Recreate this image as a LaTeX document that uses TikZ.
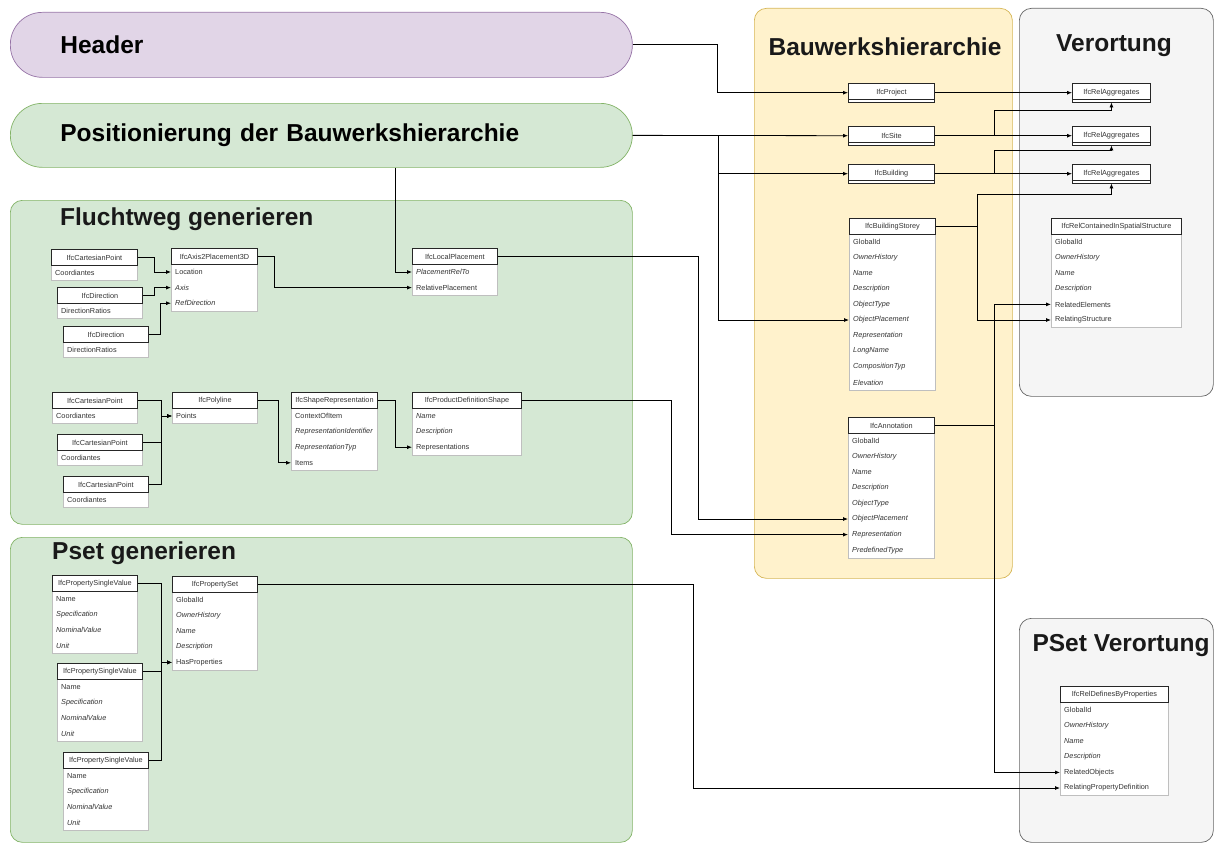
\documentclass[tikz,border=0pt]{standalone}
\usepackage{fontspec}
\setmainfont{Liberation Sans}
\usetikzlibrary{arrows.meta}

\definecolor{grnfill}{HTML}{D5E8D4}\definecolor{grnline}{HTML}{82B366}
\definecolor{purfill}{HTML}{E1D5E7}\definecolor{purline}{HTML}{9673A6}
\definecolor{yelfill}{HTML}{FFF2CC}\definecolor{yelline}{HTML}{D6B656}
\definecolor{gryfill}{HTML}{F5F5F5}\definecolor{gryline}{HTML}{666666}
\definecolor{txt}{HTML}{333333}

\tikzset{
  group/.style={draw, line width=0.7pt, rounded corners=12pt, anchor=north west, inner sep=0},
  grptitle/.style={font=\fontsize{24.5}{28}\selectfont\bfseries, text=black!90, inner sep=0},
  tabhead/.style={draw=black!85, line width=0.9pt, fill=white, anchor=north west,
    minimum height=16pt, inner sep=0, font=\fontsize{7.3}{8}\selectfont, text=txt},
  collapsed/.style={minimum height=18.5pt,
    path picture={\draw[line width=0.8pt, black!85]
      ([yshift=2.6pt]path picture bounding box.south west) --
      ([yshift=2.6pt]path picture bounding box.south east);}},
  tabbody/.style={draw=black!25, line width=0.4pt, fill=white},
  tabrow/.style={anchor=north west, minimum height=15.6pt, inner ysep=0, inner xsep=4pt,
    align=left, font=\fontsize{7.3}{8}\selectfont, text=txt},
  edge/.style={draw=black, line width=0.8pt, -{Latex[length=5pt,width=4pt]}},
}

% #1 name, #2 left, #3 top, #4 width, #5 title, #6 rows
\newcommand{\ifctable}[6]{%
  \pgfmathsetmacro{\tabtw}{#4-8}%
  \foreach [count=\i] \r in {#6} {\xdef\tabn{\i}}%
  \draw[tabbody] (#2,#3+16) rectangle (#2+#4,#3+16+\tabn*15.6);
  \node[tabhead, minimum width=#4pt] (#1) at (#2,#3) {#5};
  \foreach [count=\i] \r in {#6} {
    \node[tabrow, text width=\tabtw pt] (#1-\i) at (#2,#3+16+\i*15.6-15.6) {\r};
  }%
}

\begin{document}
\begin{tikzpicture}[x=1pt,y=-1pt]
\useasboundingbox (0,0) rectangle (1214,843);

% ---- groups ----
\node[group, fill=purfill, draw=purline, rounded corners=32pt, minimum width=622pt,
  minimum height=65pt, text width=522pt, inner xsep=50pt, align=left,
  font=\fontsize{24.5}{28}\selectfont\bfseries] (hdr) at (10,12) {Header};
\node[group, fill=grnfill, draw=grnline, rounded corners=32pt, minimum width=622pt,
  minimum height=64pt, text width=522pt, inner xsep=50pt, align=left,
  font=\fontsize{24.5}{28}\selectfont\bfseries] (pos) at (10,103) {Positionierung der Bauwerkshierarchie};

\node[group, fill=grnfill, draw=grnline, minimum width=622pt, minimum height=324pt] (flu) at (10,200) {};
\node[grptitle, anchor=west] (flu-t) at (60,219) {Fluchtweg generieren};

\node[group, fill=grnfill, draw=grnline, minimum width=622pt, minimum height=305pt] (pse) at (10,537) {};
\node[grptitle, anchor=west] (pse-t) at (52,553) {Pset generieren};

\node[group, fill=yelfill, draw=yelline, minimum width=258pt, minimum height=570pt] (bau) at (754,8) {};
\node[grptitle] (bau-t) at (885,47) {Bauwerkshierarchie};

\node[group, fill=gryfill, draw=gryline, minimum width=194pt, minimum height=388pt] (ver) at (1019,8) {};
\node[grptitle] (ver-t) at (1114,46) {Verortung};

\node[group, fill=gryfill, draw=gryline, minimum width=194pt, minimum height=224pt] (pve) at (1019,618) {};
\node[grptitle] (pve-t) at (1121,646) {PSet Verortung};

% ---- Fluchtweg generieren ----
\ifctable{cpa}{51}{249}{86}{IfcCartesianPoint}{Coordiantes}
\ifctable{dra}{57}{287}{85}{IfcDirection}{DirectionRatios}
\ifctable{drb}{63}{326}{85}{IfcDirection}{DirectionRatios}
\ifctable{ax}{171}{248}{86}{IfcAxis2Placement3D}{Location,\textit{Axis},\textit{RefDirection}}
\ifctable{lp}{412}{248}{85}{IfcLocalPlacement}{\textit{PlacementRelTo},RelativePlacement}

\ifctable{cpb}{52}{392}{85}{IfcCartesianPoint}{Coordiantes}
\ifctable{cpc}{57}{434}{85}{IfcCartesianPoint}{Coordiantes}
\ifctable{cpd}{63}{476}{85}{IfcCartesianPoint}{Coordiantes}
\ifctable{pl}{172}{392}{85}{IfcPolyline}{Points}
\ifctable{sr}{291}{392}{86}{IfcShapeRepresentation}{ContextOfItem,\textit{RepresentationIdentifier},\textit{RepresentationTyp},Items}
\ifctable{pds}{412}{392}{109}{IfcProductDefinitionShape}{\textit{Name},\textit{Description},Representations}

% ---- Pset generieren ----
\ifctable{psv1}{52}{575}{85}{IfcPropertySingleValue}{Name,\textit{Specification},\textit{NominalValue},\textit{Unit}}
\ifctable{psv2}{57}{663}{85}{IfcPropertySingleValue}{Name,\textit{Specification},\textit{NominalValue},\textit{Unit}}
\ifctable{psv3}{63}{752}{85}{IfcPropertySingleValue}{Name,\textit{Specification},\textit{NominalValue},\textit{Unit}}
\ifctable{ps}{172}{576}{85}{IfcPropertySet}{GlobalId,\textit{OwnerHistory},\textit{Name},\textit{Description},HasProperties}

% ---- Bauwerkshierarchie ----
\node[tabhead, collapsed, minimum width=86pt] (proj) at (848,83) {IfcProject};
\node[tabhead, collapsed, minimum width=86pt] (site) at (848,126) {IfcSite};
\node[tabhead, collapsed, minimum width=86pt] (bldg) at (848,164) {IfcBuilding};
\ifctable{bs}{849}{218}{86}{IfcBuildingStorey}{GlobalId,\textit{OwnerHistory},\textit{Name},\textit{Description},\textit{ObjectType},\textit{ObjectPlacement},\textit{Representation},\textit{LongName},\textit{CompositionTyp},\textit{Elevation}}
\ifctable{ann}{848}{417}{86}{IfcAnnotation}{GlobalId,\textit{OwnerHistory},\textit{Name},\textit{Description},\textit{ObjectType},\textit{ObjectPlacement},\textit{Representation},\textit{PredefinedType}}

% ---- Verortung ----
\node[tabhead, collapsed, minimum width=78pt] (ra1) at (1072,83) {IfcRelAggregates};
\node[tabhead, collapsed, minimum width=78pt] (ra2) at (1072,126) {IfcRelAggregates};
\node[tabhead, collapsed, minimum width=78pt] (ra3) at (1072,164) {IfcRelAggregates};
\ifctable{rc}{1051}{218}{130}{IfcRelContainedInSpatialStructure}{GlobalId,\textit{OwnerHistory},\textit{Name},\textit{Description},RelatedElements,RelatingStructure}

% ---- PSet Verortung ----
\ifctable{rd}{1060}{686}{108}{IfcRelDefinesByProperties}{GlobalId,\textit{OwnerHistory},\textit{Name},\textit{Description},RelatedObjects,RelatingPropertyDefinition}

% ---- connectors ----
\draw[edge] (cpa.east) -- ++(16,0) |- (ax-1.west);
\draw[edge] (dra.east) -- ++(11,0) |- (ax-2.west);
\draw[edge] (drb.east) -- ++(11,0) |- (ax-3.west);
\draw[edge] (ax.east) -- ++(16,0) |- (lp-2.west);
\draw[edge] ([xshift=74pt]pos.south) |- (lp-1.west);
\draw[edge] (lp.east) -- ++(200,0) |- (ann-6.west);

\draw[edge] (cpb.east) -- ++(23,0) |- (pl-1.west);
\draw[edge] (cpc.east) -- ++(18,0) |- (pl-1.west);
\draw[edge] (cpd.east) -- ++(12,0) |- (pl-1.west);
\draw[edge] (pl.east) -- ++(20,0) |- (sr-4.west);
\draw[edge] (sr.east) -- ++(17,0) |- (pds-3.west);
\draw[edge] (pds.east) -- ++(149,0) |- (ann-7.west);

\draw[edge] (psv1.east) -- ++(23,0) |- (ps-5.west);
\draw[edge] (psv2.east) -- ++(18,0) |- (ps-5.west);
\draw[edge] (psv3.east) -- ++(12,0) |- (ps-5.west);
\draw[edge] (ps.east) -- ++(435,0) |- (rd-6.west);

\draw[edge] (hdr.east) -- ++(85,0) |- (proj.west);
\draw[edge] (pos.east) -- (site.west);
\draw[edge] (pos.east) -- ++(86,0) |- (bldg.west);
\draw[edge] (pos.east) -- ++(86,0) |- (bs-6.west);

\draw[edge] (proj.east) -- (ra1.west);
\draw[edge] (site.east) -- (ra2.west);
\draw[edge] (bldg.east) -- (ra3.west);
\draw[edge] (site.east) -- ++(59,0) -- ++(0,-25) -| (ra1.south);
\draw[edge] (bldg.east) -- ++(59,0) -- ++(0,-23) -| (ra2.south);
\draw[edge] (bs.east) -- ++(41,0) |- (rc-6.west);
\draw[edge] (bs.east) -- ++(41,0) -- ++(0,-32) -| (ra3.south);
\draw[edge] (ann.east) -- ++(59,0) |- (rc-5.west);
\draw[edge] (ann.east) -- ++(59,0) |- (rd-5.west);
\end{tikzpicture}
\end{document}
